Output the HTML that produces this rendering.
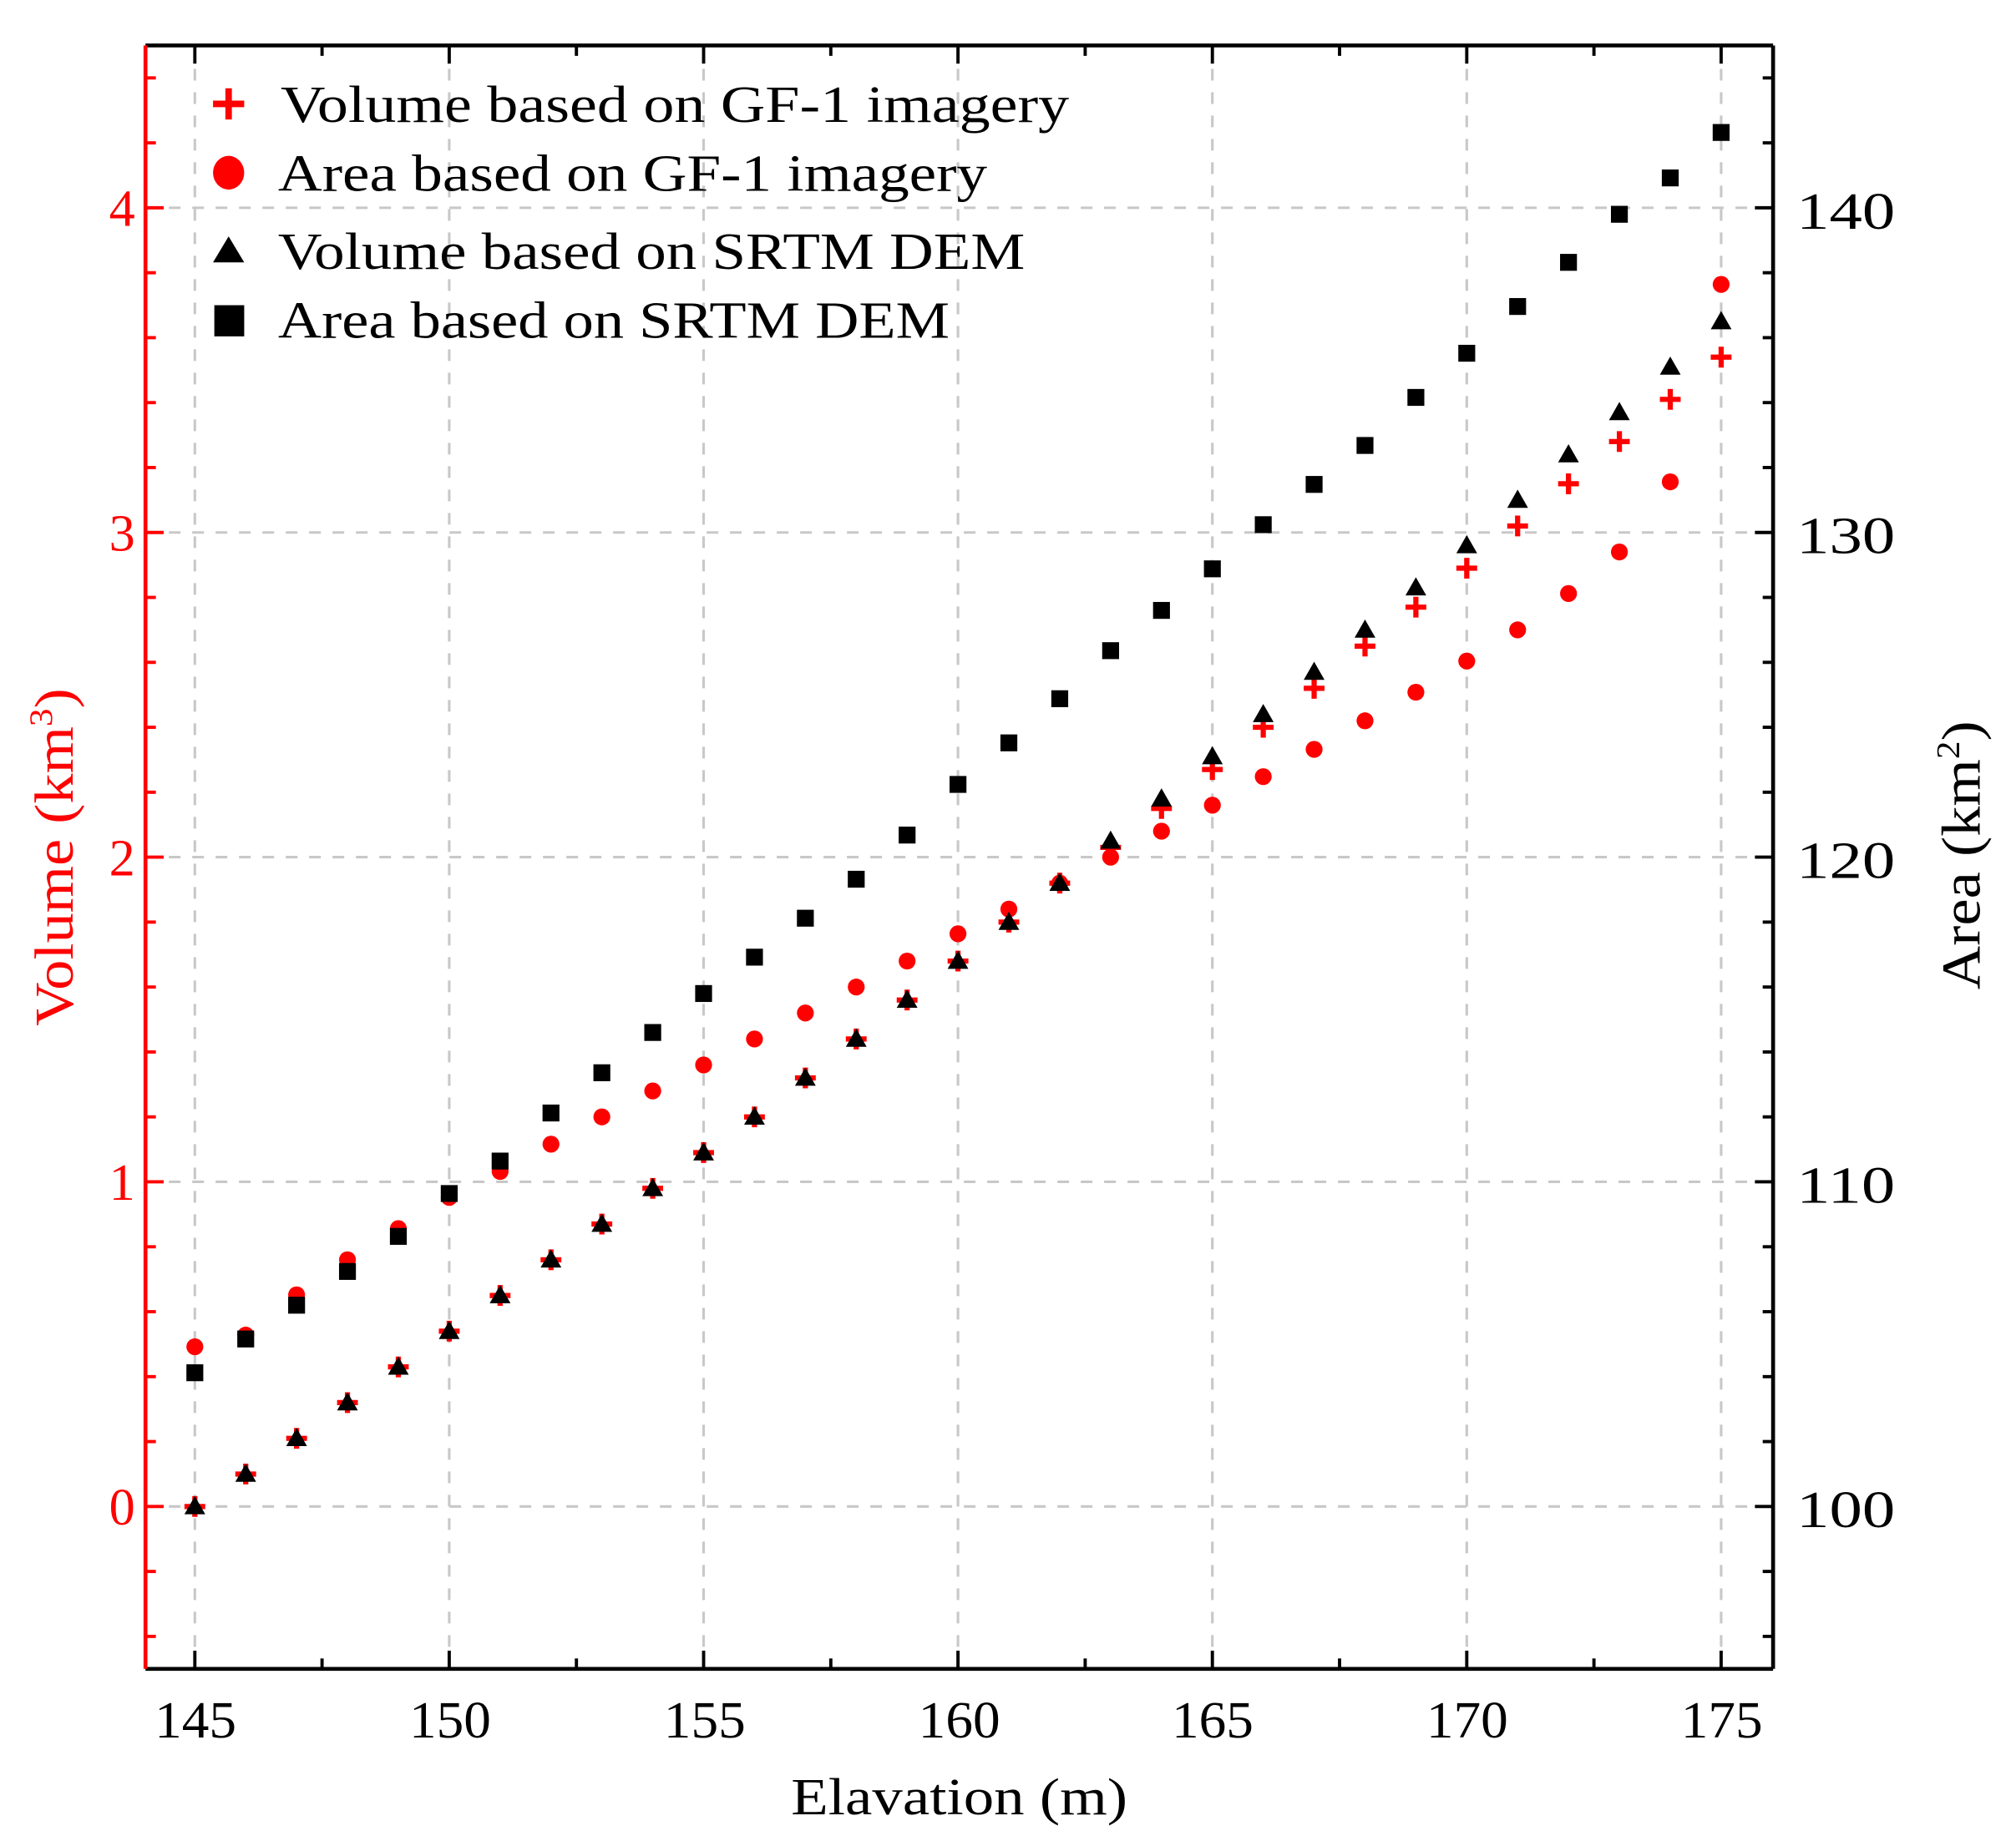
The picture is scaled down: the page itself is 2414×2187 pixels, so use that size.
<!DOCTYPE html>
<html><head><meta charset="utf-8"><style>
html,body{margin:0;padding:0;background:#fff;}
svg{display:block;}
text{font-family:"Liberation Serif",serif;}
</style></head><body>
<svg id="s" width="2414" height="2187" viewBox="0 0 1552 1406" preserveAspectRatio="none" xmlns="http://www.w3.org/2000/svg">
<rect x="0" y="0" width="1552" height="1406" fill="#fff"/>
<g id="grid" stroke="#c8c8c8" stroke-width="2" stroke-dasharray="9,9"></g>
<g id="ticks"></g>
<g id="marks"></g>
<line x1="112" y1="35" x2="1365" y2="35" stroke="#000" stroke-width="3"/>
<line x1="112" y1="1285" x2="1365" y2="1285" stroke="#000" stroke-width="3"/>
<line x1="1365" y1="35" x2="1365" y2="1285" stroke="#000" stroke-width="3"/>
<line x1="112" y1="35" x2="112" y2="1285" stroke="#f00" stroke-width="3"/>
<g font-size="40" fill="#f00" text-anchor="end">
<text x="104" y="1174">0</text><text x="104" y="924">1</text><text x="104" y="674">2</text><text x="104" y="424">3</text><text x="104" y="174">4</text>
</g>
<g font-size="40" fill="#000" text-anchor="start">
<text x="1383" y="1176" textLength="76" lengthAdjust="spacingAndGlyphs">100</text><text x="1383" y="926" textLength="76" lengthAdjust="spacingAndGlyphs">110</text><text x="1383" y="676" textLength="76" lengthAdjust="spacingAndGlyphs">120</text><text x="1383" y="426" textLength="76" lengthAdjust="spacingAndGlyphs">130</text><text x="1383" y="176" textLength="76" lengthAdjust="spacingAndGlyphs">140</text>
</g>
<g font-size="40" fill="#000">
<text x="119" y="1338" textLength="63" lengthAdjust="spacingAndGlyphs">145</text>
<text x="315" y="1338" textLength="63" lengthAdjust="spacingAndGlyphs">150</text>
<text x="511" y="1338" textLength="63" lengthAdjust="spacingAndGlyphs">155</text>
<text x="707" y="1338" textLength="63" lengthAdjust="spacingAndGlyphs">160</text>
<text x="902" y="1338" textLength="63" lengthAdjust="spacingAndGlyphs">165</text>
<text x="1098" y="1338" textLength="63" lengthAdjust="spacingAndGlyphs">170</text>
<text x="1294" y="1338" textLength="63" lengthAdjust="spacingAndGlyphs">175</text>
<text x="609" y="1397" textLength="259" lengthAdjust="spacingAndGlyphs">Elavation (m)</text>
</g>
<text x="0" y="0" font-size="42" fill="#f00" transform="translate(56,790) rotate(-90)" textLength="260" lengthAdjust="spacingAndGlyphs">Volume (km<tspan font-size="25" dy="-16">3</tspan><tspan dy="16">)</tspan></text>
<text x="0" y="0" font-size="42" fill="#000" transform="translate(1524,762) rotate(-90)" textLength="207" lengthAdjust="spacingAndGlyphs">Area (km<tspan font-size="25" dy="-16">2</tspan><tspan dy="16">)</tspan></text>
<g font-size="40" fill="#000">
<text x="216" y="94" textLength="607" lengthAdjust="spacingAndGlyphs">Volume based on GF-1 imagery</text>
<text x="214" y="147" textLength="546" lengthAdjust="spacingAndGlyphs">Area based on GF-1 imagery</text>
<text x="214" y="207" textLength="575" lengthAdjust="spacingAndGlyphs">Volume based on SRTM DEM</text>
<text x="214" y="260" textLength="517" lengthAdjust="spacingAndGlyphs">Area based on SRTM DEM</text>
</g>
<path d="M164,80 h24 M176,68 v24" stroke="#f00" stroke-width="5"/>
<ellipse cx="176" cy="133" rx="12" ry="13" fill="#f00"/>
<path d="M164,202 L176,182 L188,202 Z" fill="#000"/>
<rect x="165" y="235" width="23" height="24" fill="#000"/>
</svg>
<script>
var NS="http://www.w3.org/2000/svg";
function el(p,t,a){var e=document.createElementNS(NS,t);for(var k in a)e.setAttribute(k,a[k]);p.appendChild(e);return e;}
var X=function(v){return 150+(v-145)*39.1667;};
var Yv=function(v){return 1160-v*250;};
var g=document.getElementById('grid');
for(var x=145;x<=175;x+=5)el(g,'line',{x1:X(x),y1:35,x2:X(x),y2:1285});
for(var y=0;y<=4;y++)el(g,'line',{x1:112,y1:Yv(y),x2:1365,y2:Yv(y)});
var t=document.getElementById('ticks');
for(var i=0;i<=12;i++){var xv=145+i*2.5;if(xv>176)break;var L=(i%2==0)?14:8;var xx=X(xv);
el(t,'line',{x1:xx,y1:1285,x2:xx,y2:1285-L,stroke:'#000','stroke-width':2.5});
el(t,'line',{x1:xx,y1:35,x2:xx,y2:35+L,stroke:'#000','stroke-width':2.5});}
for(var v=-0.4;v<=4.45;v+=0.2){var yy=Yv(v);var maj=Math.abs(v-Math.round(v))<0.01;
el(t,'line',{x1:112,y1:yy,x2:112+(maj?14:8),y2:yy,stroke:'#f00','stroke-width':2.5});}
for(var a=96;a<=144;a+=2){var yy=1160-(a-100)*25;var maj=(a%10==0);
el(t,'line',{x1:1365,y1:yy,x2:1365-(maj?14:8),y2:yy,stroke:'#000','stroke-width':2.5});}
var m=document.getElementById('marks');
var vg=[0,0.1,0.21,0.32,0.43,0.54,0.65,0.76,0.87,0.98,1.09,1.2,1.32,1.44,1.56,1.68,1.8,1.92,2.03,2.15,2.27,2.4,2.52,2.65,2.77,2.89,3.02,3.15,3.28,3.41,3.54];
var vs=[0,0.1,0.21,0.32,0.43,0.54,0.65,0.76,0.87,0.98,1.09,1.2,1.32,1.44,1.56,1.68,1.8,1.92,2.05,2.18,2.31,2.44,2.57,2.7,2.83,2.96,3.1,3.24,3.37,3.51,3.65];
var ag=[1037,1028,997,970,946,922,902,881,860,840,820,800,780,760,740,719,700,680,660,640,620,598,577,555,533,509,485,457,425,371,219];
var as=[1057,1031,1005,979,952,919,894,857,826,795,765,737,707,677,643,604,572,538,501,470,438,404,373,343,306,272,236,202,165,137,102];
for(var i=0;i<31;i++){var x=X(145+i),y=Yv(vg[i]);
el(m,'path',{d:'M'+(x-8)+','+y+'h16M'+x+','+(y-8)+'v16',stroke:'#f00','stroke-width':4});}
for(var i=0;i<31;i++){el(m,'circle',{cx:X(145+i),cy:ag[i],r:6.5,fill:'#f00'});}
for(var i=0;i<31;i++){var x=X(145+i),y=Yv(vs[i]);
el(m,'path',{d:'M'+(x-8)+','+(y+6)+'L'+x+','+(y-8)+'L'+(x+8)+','+(y+6)+'Z',fill:'#000'});}
for(var i=0;i<31;i++){el(m,'rect',{x:X(145+i)-6.5,y:as[i]-6.5,width:13,height:13,fill:'#000'});}
</script>
</body></html>
